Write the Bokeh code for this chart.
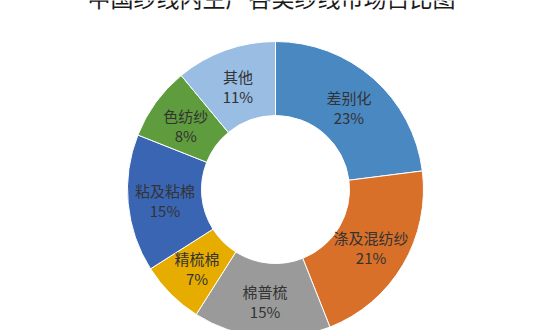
import numpy as np
from bokeh.plotting import figure
from bokeh.models import Range1d, ColumnDataSource
from bokeh.core.properties import value
from bokeh.embed import file_html
from bokeh.resources import INLINE

title_text = "中国纱线内生产各类纱线市场占比图"
categories = ["差别化", "涤及混纺纱", "棉普梳", "精梳棉", "粘及粘棉", "色纺纱", "其他"]
shares = [23, 21, 15, 7, 15, 8, 11]
colors = ["#4A88C2", "#D8702A", "#9A9A9A", "#E6AC00", "#3A65B3", "#5E9C3D", "#99BDE3"]

vals = np.array(shares, dtype=float)
frac = vals / vals.sum()
cum = np.concatenate([[0], np.cumsum(frac)])
# clockwise from 12 o'clock
start = np.pi / 2 - cum[:-1] * 2 * np.pi
end = np.pi / 2 - cum[1:] * 2 * np.pi
mid = (start + end) / 2

R_OUT, R_IN = 148, 74
r_lab = (R_OUT + R_IN) / 2
lx = r_lab * np.cos(mid)
ly = r_lab * np.sin(mid)

src = ColumnDataSource(dict(
    start=start, end=end, color=colors, cat=categories,
    pct=[f"{v:g}%" for v in shares],
    lx=lx, ly_name=ly + 9, ly_pct=ly - 11,
))

p = figure(width=550, height=330, output_backend="svg", toolbar_location=None,
           x_range=Range1d(-275, 275), y_range=Range1d(-141, 189),
           min_border=0, min_border_left=0, min_border_right=0,
           min_border_top=0, min_border_bottom=0)
p.axis.visible = False
p.grid.visible = False
p.outline_line_color = None
p.background_fill_color = "white"
p.border_fill_color = "white"

p.annular_wedge(x=0, y=0, inner_radius=R_IN, outer_radius=R_OUT,
                start_angle="start", end_angle="end", direction="clock",
                fill_color="color", line_color="white", line_width=1,
                source=src)

p.text(x="lx", y="ly_name", text="cat", source=src,
       text_font=value("Noto Sans CJK SC"), text_font_size="15px",
       text_color="#333333", text_align="center", text_baseline="middle")
p.text(x="lx", y="ly_pct", text="pct", source=src,
       text_font=value("Noto Sans CJK SC"), text_font_size="15px",
       text_color="#333333", text_align="center", text_baseline="middle")

p.text(x=[-4], y=[193], text=[title_text],
       text_font=value("Noto Sans CJK SC"), text_font_size="23px",
       text_color="#1a1a1a", text_align="center", text_baseline="alphabetic")

open("out.html", "w").write(file_html(p, INLINE))
